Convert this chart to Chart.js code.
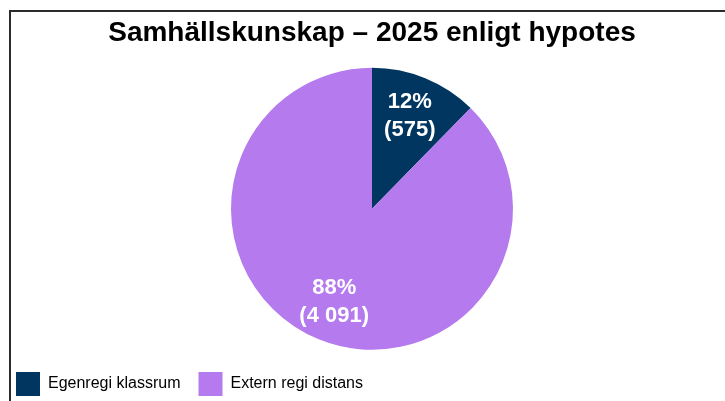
<!DOCTYPE html>
<html>
<head>
<meta charset="utf-8">
<script src="https://cdn.jsdelivr.net/npm/chart.js@4"></script>
<style>
  html, body { margin: 0; padding: 0; background: #ffffff; }
  #wrap { width: 725px; height: 401px; position: relative; }
</style>
</head>
<body>
<div id="wrap"><canvas id="pieChart"></canvas></div>
<script>
// Chart data
const categories = ['Egenregi klassrum', 'Extern regi distans'];
const students = [575, 4091];
const percentLabels = ['12%', '88%'];
const countLabels = ['(575)', '(4 091)'];
const sliceColors = ['#003660', '#B47AEE'];

const FONT = "'Liberation Sans', Arial, sans-serif";

// Frame around the chart (cropped on the right and bottom)
const framePlugin = {
  id: 'frame',
  afterLayout(chart) {
    // legend sits at the far left, independent of the pie offset
    chart.legend.left = -2;
  },
  beforeDraw(chart) {
    const ctx = chart.ctx;
    ctx.save();
    ctx.strokeStyle = '#2b2b2b';
    ctx.lineWidth = 2;
    ctx.beginPath();
    ctx.moveTo(10, 401);
    ctx.lineTo(10, 11);
    ctx.lineTo(725, 11);
    ctx.stroke();
    ctx.restore();
  }
};

// Percent + count labels inside the slices
const sliceLabels = {
  id: 'sliceLabels',
  afterDatasetsDraw(chart) {
    const ctx = chart.ctx;
    const meta = chart.getDatasetMeta(0);
    ctx.save();
    ctx.fillStyle = '#ffffff';
    ctx.font = 'bold 22px ' + FONT;
    ctx.textAlign = 'center';
    ctx.textBaseline = 'middle';
    meta.data.forEach((arc, i) => {
      const p = arc.getProps(['x', 'y', 'startAngle', 'endAngle', 'outerRadius'], true);
      const mid = (p.startAngle + p.endAngle) / 2;
      const r = p.outerRadius * 0.71;
      const x = p.x + Math.cos(mid) * r;
      const y = p.y + Math.sin(mid) * r;
      ctx.fillText(percentLabels[i], x, y - 14);
      ctx.fillText(countLabels[i], x, y + 14);
    });
    ctx.restore();
  }
};

new Chart(document.getElementById('pieChart'), {
  type: 'pie',
  data: {
    labels: categories,
    datasets: [{
      data: students,
      backgroundColor: sliceColors,
      borderWidth: 0,
      radius: 141,
    }],
  },
  options: {
    responsive: true,
    maintainAspectRatio: false,
    animation: false,
    layout: {
      padding: { left: 19, right: 0, top: 0, bottom: -5 },
    },
    plugins: {
      title: {
        display: true,
        text: 'Samhällskunskap – 2025 enligt hypotes',
        color: '#000000',
        font: { family: FONT, size: 28, weight: 'bold' },
        padding: { top: 16, bottom: 14 },
      },
      legend: {
        display: true,
        position: 'bottom',
        align: 'start',
        labels: {
          color: '#000000',
          font: { family: FONT, size: 16 },
          boxWidth: 24,
          boxHeight: 24,
          padding: 18,
        },
      },
      tooltip: { enabled: false },
    },
  },
  plugins: [framePlugin, sliceLabels],
});
</script>
</body>
</html>
